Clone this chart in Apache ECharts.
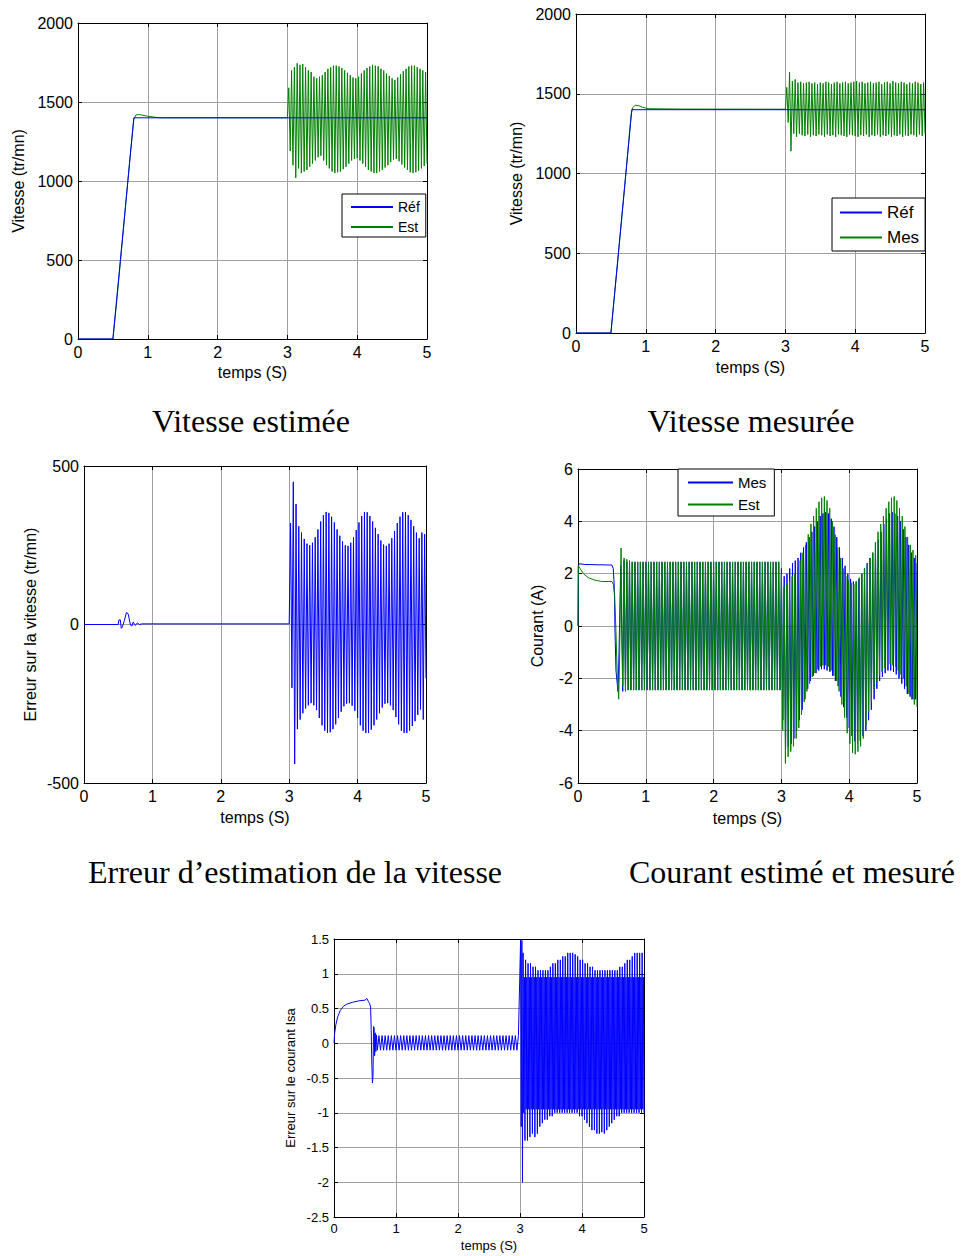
<!DOCTYPE html>
<html>
<head>
<meta charset="utf-8">
<script src="https://cdn.jsdelivr.net/npm/echarts@6/dist/echarts.min.js"></script>
<style>
html,body{margin:0;padding:0;background:#fff}
#chart{width:962px;height:1256px}
</style>
</head>
<body>
<div id="chart"></div>
<script>
// ---- Vitesse estimée (tr/mn) ----
const refSpeedA = [[0,0],[0.5,0],[0.8,1400],[5,1400]];
const estSpeedStart = [[0,0],[0.5,0],[0.55,215],[0.65,690],[0.75,1170],[0.8,1392],[0.83,1418],[0.87,1421],[0.93,1416],[1.0,1410],[1.08,1405],[1.15,1401],[1.2,1400],[3.0,1400]];
// alternating crest / trough readings, evenly spread over 3.02 s .. 5.0 s
const estSpeedOsc = [
  1590,1190,1700,1100,1720,1020,1745,1080,1735,1050,1740,1060,1720,1070,1700,1090,1690,1110,1660,1130,
  1650,1150,1660,1160,1670,1130,1690,1100,1710,1080,1720,1060,1730,1050,1730,1055,1725,1060,1715,1075,
  1700,1090,1685,1110,1670,1130,1655,1140,1650,1145,1660,1130,1680,1110,1700,1090,1715,1070,1725,1060,
  1735,1050,1730,1050,1725,1060,1710,1070,1700,1085,1680,1100,1665,1120,1650,1135,1640,1140,1655,1125,
  1675,1105,1695,1085,1710,1070,1725,1055,1730,1050,1730,1055,1720,1065,1710,1080,1700,1095,1690,1110
];

// ---- Vitesse mesurée (tr/mn) ----
const refSpeedB = [[0,0],[0.5,0],[0.8,1400],[5,1400]];
const mesSpeedStart = [[0,0],[0.5,0],[0.6,460],[0.7,930],[0.79,1370],[0.81,1412],[0.85,1428],[0.9,1425],[0.95,1416],[1.0,1410],[1.05,1406],[1.5,1404],[3.0,1403]];
// 3.02 s .. 5.0 s
const mesSpeedOsc = [
  1540,1320,1635,1140,1580,1250,1590,1230,1570,1250,1575,1240,1565,1235,1570,1245,1575,1230,1565,1240,
  1570,1235,1560,1245,1570,1240,1565,1230,1575,1245,1570,1235,1560,1240,1570,1230,1575,1245,1565,1240,
  1570,1235,1575,1230,1565,1245,1570,1240,1575,1235,1580,1230,1570,1240,1575,1235,1565,1245,1570,1230,
  1575,1240,1565,1235,1570,1245,1575,1230,1560,1240,1570,1235,1575,1245,1565,1230,1580,1240,1570,1235,
  1565,1245,1575,1230,1570,1240,1560,1235,1570,1245,1565,1240,1575,1230,1570,1245,1560,1235,1570,1250
];

// ---- Erreur d'estimation de la vitesse (tr/mn) ----
const errSpeedStart = [[0,0],[0.5,0],[0.51,14],[0.53,15],[0.545,-12],[0.56,-8],[0.59,12],[0.62,38],[0.645,34],[0.68,-2],[0.7,-5],[0.72,8],[0.75,-3],[0.78,5],[0.81,0],[0.85,2],[3.0,2]];
// 3.02 s .. 5.0 s
const errSpeedOsc = [
  320,-200,450,-440,380,-330,310,-300,290,-280,270,-265,255,-255,250,-248,258,-255,275,-270,
  300,-295,325,-318,345,-335,355,-342,352,-340,340,-330,322,-315,300,-295,280,-275,262,-258,
  250,-250,248,-248,258,-256,275,-272,298,-295,322,-318,342,-335,355,-342,354,-342,342,-332,
  325,-318,305,-300,285,-280,265,-262,252,-250,248,-248,255,-255,272,-270,295,-292,320,-315,
  340,-335,354,-342,355,-342,345,-335,330,-320,310,-305,290,-285,272,-268,290,-300,285,-170
];

// ---- Courant estimé et mesuré (A) ----
const curMesStart = [[0,0],[0.005,2.3],[0.02,2.38],[0.1,2.35],[0.5,2.33],[0.52,2.2],[0.535,1.5],[0.545,-0.1],[0.56,-1.7],[0.59,-2.5],[0.605,-1.0],[0.63,2.3]];
// 0.66 s .. 2.96 s (saturated band)
const curMesOscA = [
  -2.5,2.5,
  -2.45,2.45,-2.45,2.45,-2.45,2.45,-2.45,2.45,-2.45,2.45,-2.45,2.45,-2.45,2.45,-2.45,2.45,-2.45,2.45,-2.45,2.45,
  -2.45,2.45,-2.45,2.45,-2.45,2.45,-2.45,2.45,-2.45,2.45,-2.45,2.45,-2.45,2.45,-2.45,2.45,-2.45,2.45,-2.45,2.45,
  -2.45,2.45,-2.45,2.45,-2.45,2.45,-2.45,2.45,-2.45,2.45,-2.45,2.45,-2.45,2.45,-2.45,2.45,-2.45,2.45,-2.45,2.45,
  -2.45,2.45,-2.45,2.45,-2.45,2.45,-2.45,2.45,-2.45,2.45,-2.45,2.45,-2.45,2.45,-2.45,2.45,-2.45,2.45,-2.45,2.45,
  -2.45,2.45,-2.45,2.45,-2.45,2.45,-2.45,2.45,-2.45,2.45,-2.45,2.45,-2.45,2.45,-2.45,2.45,-2.45,2.45,-2.45,2.45,
  -2.45,2.45,-2.45,2.45,-2.45,2.45,-2.45,2.45,-2.45,2.45,-2.45,2.45,-2.45,2.45
];
// 2.98 s .. 5.0 s
const curMesOscB = [
  -2.45,2.2,-3.6,1.9,-4.7,2.0,-4.6,2.2,-4.5,2.4,
  -4.3,2.5,-4.0,2.6,-3.6,2.8,-3.2,3.0,-2.8,3.2,
  -2.4,3.4,-2.1,3.6,-1.9,3.8,-1.8,4.0,-1.7,4.2,
  -1.65,4.3,-1.65,4.35,-1.7,4.3,-1.75,4.1,-1.9,3.8,
  -2.1,3.4,-2.3,3.0,-2.7,2.6,-3.1,2.3,-3.5,2.0,
  -3.9,1.8,-4.2,1.7,-4.4,1.7,-4.45,1.8,-4.4,2.0,
  -4.2,2.2,-4.0,2.4,-3.6,2.6,-3.2,2.8,-2.8,3.0,
  -2.4,3.3,-2.1,3.6,-1.95,3.9,-1.8,4.1,-1.7,4.3,
  -1.7,4.35,-1.75,4.3,-1.85,4.2,-2.0,4.0,-2.2,3.7,
  -2.4,3.4,-2.6,3.1,-2.7,2.8,-2.8,2.6,-2.8,2.4
];
const curEstStart = [[0,0],[0.005,2.3],[0.03,2.2],[0.08,2.0],[0.15,1.85],[0.25,1.75],[0.35,1.7],[0.5,1.7],[0.52,1.6],[0.54,1.2],[0.56,-0.2],[0.58,-2.0],[0.6,-2.8],[0.615,-1.0],[0.635,2.98]];
// 0.66 s .. 2.96 s (saturated band)
const curEstOscA = [
  -2.3,2.6,-2.5,2.55,-2.45,2.5,
  -2.45,2.45,-2.45,2.45,-2.45,2.45,-2.45,2.45,-2.45,2.45,-2.45,2.45,-2.45,2.45,-2.45,2.45,-2.45,2.45,-2.45,2.45,
  -2.45,2.45,-2.45,2.45,-2.45,2.45,-2.45,2.45,-2.45,2.45,-2.45,2.45,-2.45,2.45,-2.45,2.45,-2.45,2.45,-2.45,2.45,
  -2.45,2.45,-2.45,2.45,-2.45,2.45,-2.45,2.45,-2.45,2.45,-2.45,2.45,-2.45,2.45,-2.45,2.45,-2.45,2.45,-2.45,2.45,
  -2.45,2.45,-2.45,2.45,-2.45,2.45,-2.45,2.45,-2.45,2.45,-2.45,2.45,-2.45,2.45,-2.45,2.45,-2.45,2.45,-2.45,2.45,
  -2.45,2.45,-2.45,2.45,-2.45,2.45,-2.45,2.45,-2.45,2.45,-2.45,2.45,-2.45,2.45,-2.45,2.45,-2.45,2.45,-2.45,2.45,
  -2.45,2.45,-2.45,2.45,-2.45,2.45,-2.45,2.45,-2.45,2.45
];
// 2.98 s .. 5.0 s
const curEstOscB = [
  -2.45,2.0,-4.0,1.5,-5.25,1.6,-5.0,1.7,-4.8,1.9,
  -4.6,2.0,-4.3,2.2,-3.9,2.5,-3.4,2.8,-2.9,3.1,
  -2.5,3.5,-2.2,3.9,-1.95,4.2,-1.8,4.5,-1.65,4.75,
  -1.55,4.9,-1.5,4.95,-1.5,4.8,-1.55,4.5,-1.7,4.0,
  -1.9,3.5,-2.1,3.0,-2.5,2.6,-3.0,2.2,-3.5,1.9,
  -4.1,1.75,-4.5,1.65,-4.85,1.6,-4.9,1.7,-4.8,1.85,
  -4.6,2.0,-4.3,2.2,-3.8,2.4,-3.3,2.6,-2.9,2.8,
  -2.4,3.2,-2.1,3.6,-1.9,3.9,-1.75,4.2,-1.6,4.5,
  -1.5,4.75,-1.45,4.9,-1.5,4.95,-1.55,4.8,-1.7,4.5,
  -1.85,4.2,-2.0,3.8,-2.3,3.4,-2.6,3.1,-2.8,2.9,
  -3.0,2.7,-3.1
];

// ---- Erreur sur le courant Isa (A) ----
const errIsaStart = [[0,0],[0.01,0.14],[0.03,0.27],[0.06,0.38],[0.1,0.47],[0.15,0.53],[0.2,0.56],[0.3,0.59],[0.4,0.61],[0.5,0.62],[0.53,0.645],[0.555,0.6],[0.575,0.57],[0.59,0.52],[0.6,0.2],[0.61,-0.3],[0.62,-0.57],[0.63,-0.45],[0.638,0.24],[0.648,0.22],[0.655,-0.18],[0.665,0.15],[0.675,-0.12],[0.685,0.12]];
// 0.7 s .. 2.975 s
const errIsaOscA = [
  -0.1,0.11,-0.1,0.11,-0.1,0.11,-0.1,0.11,-0.1,0.11,-0.1,0.11,-0.1,0.11,-0.1,0.11,-0.1,0.11,-0.1,0.11,
  -0.1,0.11,-0.1,0.11,-0.1,0.11,-0.1,0.11,-0.1,0.11,-0.1,0.11,-0.1,0.11,-0.1,0.11,-0.1,0.11,-0.1,0.11,
  -0.1,0.11,-0.1,0.11,-0.1,0.11,-0.1,0.11,-0.1,0.11,-0.1,0.11,-0.1,0.11,-0.1,0.11,-0.1,0.11,-0.1,0.11,
  -0.1,0.11,-0.1,0.11,-0.1,0.11,-0.1,0.11,-0.1,0.11,-0.1,0.11,-0.1,0.11,-0.1,0.11,-0.1,0.11,-0.1,0.11,
  -0.1,0.11,-0.1,0.11,-0.1,0.11,-0.1,0.11,-0.1,0.11,-0.1,0.11
];
// 3.01 s .. 5.0 s
const errIsaOscB = [
  1.5,-1.2,1.48,-2.0,1.3,-1.0,0.95,-1.4,1.2,-0.95,0.95,-1.4,1.15,-0.95,0.95,-1.35,1.15,-0.95,0.95,-1.3,
  1.1,-0.95,0.95,-1.35,1.1,-0.95,0.95,-1.3,1.05,-0.95,0.95,-1.2,1.05,-0.95,0.95,-1.15,1.05,-0.95,0.95,-1.1,
  1.05,-0.95,0.95,-1.1,1.05,-0.95,0.95,-1.05,1.1,-0.95,0.95,-1.05,1.15,-0.95,0.95,-1.0,1.15,-0.95,0.95,-1.0,
  1.2,-0.95,0.95,-1.0,1.2,-0.95,0.95,-1.0,1.25,-0.95,0.95,-1.0,1.25,-0.95,0.95,-1.0,1.3,-0.95,0.95,-1.0,
  1.3,-0.95,0.95,-1.0,1.3,-0.95,0.95,-1.0,1.28,-0.95,0.95,-1.0,1.25,-0.95,0.95,-1.05,1.2,-0.95,0.95,-1.05,
  1.2,-0.95,0.95,-1.1,1.15,-0.95,0.95,-1.15,1.15,-0.95,0.95,-1.2,1.1,-0.95,0.95,-1.25,1.1,-0.95,0.95,-1.25,
  1.05,-0.95,0.95,-1.3,1.05,-0.95,0.95,-1.3,1.05,-0.95,0.95,-1.28,1.05,-0.95,0.95,-1.3,1.05,-0.95,0.95,-1.25,
  1.05,-0.95,0.95,-1.2,1.05,-0.95,0.95,-1.15,1.05,-0.95,0.95,-1.1,1.05,-0.95,0.95,-1.05,1.05,-0.95,0.95,-1.05,
  1.1,-0.95,0.95,-1.0,1.1,-0.95,0.95,-1.0,1.15,-0.95,0.95,-1.0,1.2,-0.95,0.95,-1.0,1.2,-0.95,0.95,-1.0,
  1.25,-0.95,0.95,-1.0,1.3,-0.95,0.95,-1.0,1.3,-0.95,0.95,-1.0,1.3,-0.95,0.95,-1.0,1.3,-0.95,0.95,-1.0
];

// spread a run of readings evenly between two instants on the time axis
function spread(t0, t1, vals) {
  const dt = (t1 - t0) / (vals.length - 1);
  return vals.map((v, i) => [+(t0 + i * dt).toFixed(5), v]);
}

const estSpeed = estSpeedStart.concat(spread(3.02, 5.0, estSpeedOsc));
const mesSpeed = mesSpeedStart.concat(spread(3.02, 5.0, mesSpeedOsc));
const errSpeed = errSpeedStart.concat(spread(3.02, 5.0, errSpeedOsc));
const curMes = curMesStart.concat(spread(0.66, 2.96, curMesOscA), spread(2.98, 5.0, curMesOscB));
const curEst = curEstStart.concat(spread(0.66, 2.96, curEstOscA), spread(2.98, 5.0, curEstOscB));
const errIsa = errIsaStart.concat(spread(0.7, 2.975, errIsaOscA), spread(3.01, 5.0, errIsaOscB));

const SANS = 'Liberation Sans, Arial, sans-serif';
const SERIF = 'Liberation Serif, Times New Roman, serif';
const BLUE = '#0000ff';
const GREEN = '#008000';

const grids = [
  {left: 78, top: 23, width: 349, height: 316},
  {left: 576, top: 14, width: 349, height: 319},
  {left: 84, top: 466, width: 342, height: 317},
  {left: 578, top: 469, width: 339, height: 314},
  {left: 334, top: 939, width: 310, height: 278}
];

const panels = [
  {yMin: 0, yMax: 2000, yInt: 500, fs: 16, yName: 'Vitesse (tr/mn)', yGap: 52, xGap: 25},
  {yMin: 0, yMax: 2000, yInt: 500, fs: 16, yName: 'Vitesse (tr/mn)', yGap: 52, xGap: 26},
  {yMin: -500, yMax: 500, yInt: 500, fs: 16, yName: 'Erreur sur la vitesse (tr/mn)', yGap: 46, xGap: 26},
  {yMin: -6, yMax: 6, yInt: 2, fs: 16, yName: 'Courant (A)', yGap: 33, xGap: 27},
  {yMin: -2.5, yMax: 1.5, yInt: 0.5, fs: 13, yName: 'Erreur sur le courant Isa', yGap: 37, xGap: 22}
];

const plain = v => String(v);

const xAxis = [], yAxis = [];
panels.forEach((p, gi) => {
  const tick = {show: true, inside: true, length: 4, lineStyle: {color: '#000', width: 1}};
  const line = {show: true, onZero: false, lineStyle: {color: '#000', width: 1}};
  const nameStyle = {color: '#000', fontSize: p.fs, fontFamily: SANS};
  xAxis.push({
    type: 'value', gridIndex: gi, min: 0, max: 5, interval: 1, position: 'bottom',
    axisLine: line, axisTick: tick,
    axisLabel: {color: '#000', fontSize: p.fs, fontFamily: SANS, margin: 5, formatter: plain},
    splitLine: {show: true, lineStyle: {color: '#a0a0a0', width: 1}},
    name: 'temps (S)', nameLocation: 'middle', nameGap: p.xGap, nameTextStyle: nameStyle
  });
  xAxis.push({
    type: 'value', gridIndex: gi, min: 0, max: 5, interval: 1, position: 'top',
    axisLine: line, axisTick: tick, axisLabel: {show: false}, splitLine: {show: false}
  });
  yAxis.push({
    type: 'value', gridIndex: gi, min: p.yMin, max: p.yMax, interval: p.yInt, position: 'left',
    axisLine: line, axisTick: tick,
    axisLabel: {color: '#000', fontSize: p.fs, fontFamily: SANS, margin: 5, formatter: plain},
    splitLine: {show: true, lineStyle: {color: '#a0a0a0', width: 1}},
    name: p.yName, nameLocation: 'middle', nameGap: p.yGap, nameTextStyle: nameStyle
  });
  yAxis.push({
    type: 'value', gridIndex: gi, min: p.yMin, max: p.yMax, interval: p.yInt, position: 'right',
    axisLine: line, axisTick: tick, axisLabel: {show: false}, splitLine: {show: false}
  });
});

// series ids carry a panel suffix after '|'; legends show the part before it
function trace(id, gi, data, color, z) {
  return {
    type: 'line', name: id, xAxisIndex: gi * 2, yAxisIndex: gi * 2, data: data,
    symbol: 'none', showSymbol: false, clip: true, z: z,
    lineStyle: {color: color, width: 1}, itemStyle: {color: color},
    emphasis: {disabled: true}
  };
}

function legendBox(left, top, fs, itemWidth, gap, padding, items) {
  return {
    orient: 'vertical', left: left, top: top, padding: padding,
    icon: 'rect', itemWidth: itemWidth, itemHeight: 2, itemGap: gap, selectedMode: false,
    backgroundColor: '#fff', borderColor: '#000', borderWidth: 1, borderRadius: 0,
    itemStyle: {borderWidth: 0},
    textStyle: {color: '#000', fontSize: fs, fontFamily: SANS},
    formatter: n => n.split('|')[0],
    data: items.map(it => ({name: it[0], itemStyle: {color: it[1], borderWidth: 0, opacity: 1}}))
  };
}

function caption(text, cx, top) {
  return {
    text: text, left: cx, top: top, textAlign: 'center', textVerticalAlign: 'top', padding: 0,
    textStyle: {fontFamily: SERIF, fontSize: 32, fontWeight: 'normal', color: '#000'}
  };
}

const option = {
  backgroundColor: '#fff',
  animation: false,
  grid: grids.map(g => Object.assign({containLabel: false}, g)),
  xAxis: xAxis,
  yAxis: yAxis,
  title: [
    caption('Vitesse estimée', 251, 405),
    caption('Vitesse mesurée', 751, 405),
    caption('Erreur d\u2019estimation de la vitesse', 295, 856),
    caption('Courant estimé et mesuré', 792, 856)
  ],
  legend: [
    legendBox(342, 194, 14, 42, 6, [6, 6, 3, 9], [['Réf|1', BLUE], ['Est|1', GREEN]]),
    legendBox(832, 198, 17, 42, 8, [6, 6, 5, 8], [['Réf|2', BLUE], ['Mes|2', GREEN]]),
    legendBox(678, 469, 15, 45, 7, [6, 8, 4, 10], [['Mes|4', BLUE], ['Est|4', GREEN]])
  ],
  series: [
    trace('Est|1', 0, estSpeed, GREEN, 2),
    trace('Réf|1', 0, refSpeedA, BLUE, 3),
    trace('Mes|2', 1, mesSpeed, GREEN, 2),
    trace('Réf|2', 1, refSpeedB, BLUE, 3),
    trace('Erreur|3', 2, errSpeed, BLUE, 2),
    trace('Mes|4', 3, curMes, BLUE, 2),
    trace('Est|4', 3, curEst, GREEN, 3),
    trace('Erreur|5', 4, errIsa, BLUE, 2)
  ]
};

const chart = echarts.init(document.getElementById('chart'), null, {renderer: 'svg'});
chart.setOption(option);
</script>
</body>
</html>
